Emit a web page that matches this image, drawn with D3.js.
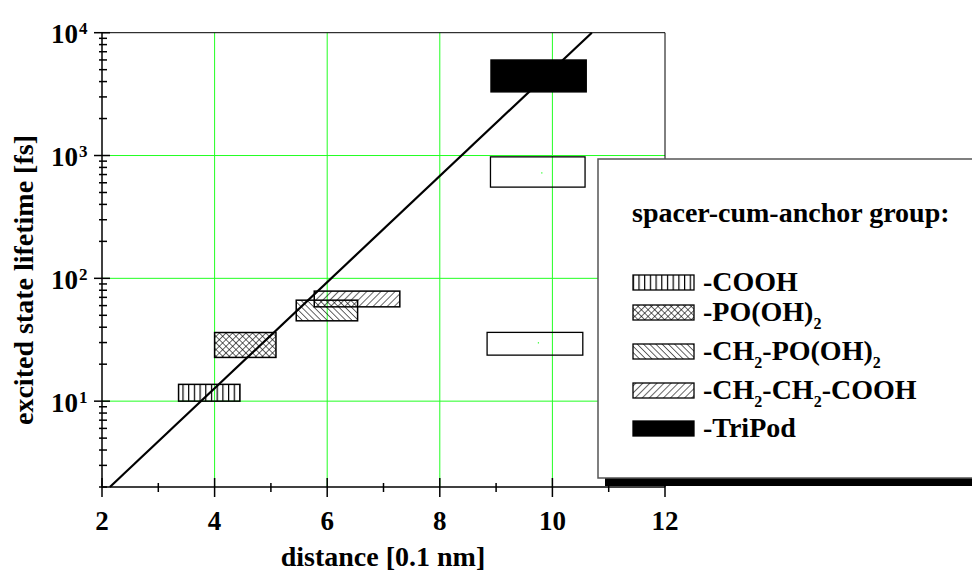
<!DOCTYPE html>
<html><head><meta charset="utf-8">
<script src="https://cdn.jsdelivr.net/npm/d3@7"></script>
<style>
html,body{margin:0;padding:0;background:#fff;overflow:hidden}
svg text{font-family:"Liberation Serif","Times New Roman",serif;font-weight:bold;fill:#000}
</style></head>
<body>
<svg id="chart" width="972" height="572"></svg>
<script>
// ---------- data ----------
const xMajorTicks = [2, 4, 6, 8, 10, 12];
const xMinorTicks = [3, 5, 7, 9, 11];
const yMajorExps = [1, 2, 3, 4];
const groupNames = ["-COOH", "-PO(OH)2", "-CH2-PO(OH)2", "-CH2-CH2-COOH", "-TriPod"];
const groupPatterns = ["vert", "cross", "back", "fwd", "solid"];
const rectX0 = [3.36, 4.00, 5.45, 5.77, 8.91];
const rectX1 = [4.45, 5.09, 6.54, 7.29, 10.60];
const rectY0 = [10.0, 22.7, 45.1, 58.6, 3300];
const rectY1 = [13.7, 36.2, 66.4, 78.7, 5990];
// open (unfilled) boxes
const openX0 = [8.90, 8.84];
const openX1 = [10.58, 10.54];
const openY0 = [553, 23.7];
const openY1 = [975, 36.3];
const openCx = [9.81, 9.75];
const openCy = [723, 29.9];
// fitted line
const fitX = [2.14, 10.70];
const fitY = [2, 10000];

// ---------- layout ----------
const svg = d3.select("#chart");
const x = d3.scaleLinear().domain([2, 12]).range([102, 665]);
const y = d3.scaleLog().domain([2, 10000]).range([487, 32.7]);
const GRID = "#22ff22";

// patterns
const defs = svg.append("defs");
function pat(id, size, rot, lines) {
  const p = defs.append("pattern").attr("id", id).attr("patternUnits", "userSpaceOnUse")
    .attr("width", size).attr("height", size);
  if (rot) p.attr("patternTransform", `rotate(${rot})`);
  lines.forEach(l => p.append("line").attr("x1", l[0]).attr("y1", l[1]).attr("x2", l[2]).attr("y2", l[3])
    .attr("stroke", "#000").attr("stroke-width", 1.2));
}
pat("vert", 5.7, 0, [[0.6, 0, 0.6, 5.7]]);
pat("cross", 4.7, 45, [[0, 0, 0, 4.7], [0, 0, 4.7, 0]]);
pat("back", 4.4, -45, [[0, 0, 0, 4.4]]);
pat("fwd", 5.0, 45, [[0, 0, 0, 5.0]]);
const fillOf = p => p === "solid" ? "#000" : `url(#${p})`;

// grid
const gridX = [4, 6, 8, 10];
const gridY = [10, 100, 1000];
svg.append("g").selectAll("line").data(gridX).join("line")
  .attr("x1", d => x(d)).attr("x2", d => x(d)).attr("y1", y(10000)).attr("y2", y(2))
  .attr("stroke", GRID).attr("stroke-width", 1);
svg.append("g").selectAll("line").data(gridY).join("line")
  .attr("x1", x(2)).attr("x2", x(12)).attr("y1", d => y(d)).attr("y2", d => y(d))
  .attr("stroke", GRID).attr("stroke-width", 1);

// frame top/right
svg.append("line").attr("x1", x(2)).attr("x2", x(12)).attr("y1", y(10000)).attr("y2", y(10000))
  .attr("stroke", "#000").attr("stroke-width", 1);
svg.append("line").attr("x1", x(12)).attr("x2", x(12)).attr("y1", y(10000)).attr("y2", y(2))
  .attr("stroke", "#000").attr("stroke-width", 1);

// axes
const xAxis = svg.append("g").attr("transform", `translate(0,${y(2)})`)
  .call(d3.axisBottom(x).tickValues(xMajorTicks).tickSize(0).tickFormat(""));
xAxis.select(".domain").attr("stroke-width", 1.5).attr("d", `M${x(2)},0H${x(12)}`);
svg.append("g").selectAll("line").data(xMajorTicks).join("line")
  .attr("x1", d => x(d)).attr("x2", d => x(d)).attr("y1", y(2) - 9).attr("y2", y(2) + 10)
  .attr("stroke", "#000").attr("stroke-width", 1.5);
svg.append("g").selectAll("line").data(xMinorTicks).join("line")
  .attr("x1", d => x(d)).attr("x2", d => x(d)).attr("y1", y(2) - 4).attr("y2", y(2) + 5)
  .attr("stroke", "#000").attr("stroke-width", 1.5);
svg.append("g").selectAll("text").data(xMajorTicks).join("text")
  .attr("x", d => x(d)).attr("y", 530).attr("text-anchor", "middle")
  .attr("font-size", 27).text(d => d);

const yAxis = svg.append("g").attr("transform", `translate(${x(2)},0)`)
  .call(d3.axisLeft(y).tickValues([]).tickSize(0));
yAxis.select(".domain").attr("stroke-width", 1.5).attr("d", `M0,${y(2)}V${y(10000)}`);
const yMinor = [];
for (let e = 0; e <= 3; e++) for (let m = 2; m <= 9; m++) { const v = m * Math.pow(10, e); if (v >= 2 && v < 10000) yMinor.push(v); }
svg.append("g").selectAll("line").data(yMinor).join("line")
  .attr("x1", x(2) - 3).attr("x2", x(2) + 5).attr("y1", d => y(d)).attr("y2", d => y(d))
  .attr("stroke", "#000").attr("stroke-width", 1.5);
svg.append("g").selectAll("line").data(yMajorExps).join("line")
  .attr("x1", x(2) - 8).attr("x2", x(2) + 8).attr("y1", d => y(Math.pow(10, d))).attr("y2", d => y(Math.pow(10, d)))
  .attr("stroke", "#000").attr("stroke-width", 1.5);
const yl = svg.append("g").selectAll("text").data(yMajorExps).join("text")
  .attr("x", 51).attr("y", d => y(Math.pow(10, d)) + 10.5).attr("font-size", 27);
yl.append("tspan").text("10");
yl.append("tspan").attr("font-size", 17).attr("dy", -9).attr("dx", 1).text(d => d);

// axis titles
svg.append("text").attr("x", 383).attr("y", 566).attr("text-anchor", "middle")
  .attr("font-size", 28).text("distance [0.1 nm]");
svg.append("text").attr("transform", "translate(33,280) rotate(-90)").attr("text-anchor", "middle")
  .attr("font-size", 28).text("excited state lifetime [fs]");

// data boxes
svg.append("g").selectAll("rect").data(groupNames).join("rect")
  .attr("x", (d, i) => x(rectX0[i])).attr("width", (d, i) => x(rectX1[i]) - x(rectX0[i]))
  .attr("y", (d, i) => y(rectY1[i])).attr("height", (d, i) => y(rectY0[i]) - y(rectY1[i]))
  .attr("fill", (d, i) => fillOf(groupPatterns[i])).attr("stroke", "#000").attr("stroke-width", 1.5);
svg.append("g").selectAll("rect").data(openX0).join("rect")
  .attr("x", (d, i) => x(openX0[i])).attr("width", (d, i) => x(openX1[i]) - x(openX0[i]))
  .attr("y", (d, i) => y(openY1[i])).attr("height", (d, i) => y(openY0[i]) - y(openY1[i]))
  .attr("fill", "none").attr("stroke", "#000").attr("stroke-width", 1.3);
svg.append("g").selectAll("rect").data(openCx).join("rect")
  .attr("x", (d, i) => x(openCx[i]) - 0.5).attr("y", (d, i) => y(openCy[i]) - 0.5)
  .attr("width", 1.2).attr("height", 1.2).attr("fill", GRID);

// fitted line
svg.append("path").datum(fitX.map((v, i) => [v, fitY[i]]))
  .attr("d", d3.line().x(d => x(d[0])).y(d => y(d[1])))
  .attr("fill", "none").attr("stroke", "#000").attr("stroke-width", 2.2);

// legend
const lg = svg.append("g");
lg.append("rect").attr("x", 605).attr("y", 167).attr("width", 400).attr("height", 319).attr("fill", "#000");
lg.append("rect").attr("x", 598).attr("y", 159).attr("width", 400).attr("height", 319)
  .attr("fill", "#fff").attr("stroke", "#555").attr("stroke-width", 1.5);
lg.append("text").attr("x", 632).attr("y", 222).attr("font-size", 28).text("spacer-cum-anchor group:");
const legBase = [291, 321, 360, 399, 437];
lg.selectAll("rect.sw").data(groupNames).join("rect").attr("class", "sw")
  .attr("x", 633).attr("y", (d, i) => legBase[i] - 16).attr("width", 61).attr("height", 15)
  .attr("fill", (d, i) => fillOf(groupPatterns[i])).attr("stroke", "#000").attr("stroke-width", 1.3);
const lt = lg.selectAll("text.lab").data(groupNames).join("text").attr("class", "lab")
  .attr("x", 703).attr("y", (d, i) => legBase[i]).attr("font-size", 28);
lt.each(function (d) {
  const t = d3.select(this);
  const parts = d.split(/(2)/);
  let sub = false;
  parts.forEach(p => {
    if (p === "") return;
    if (p === "2") {
      t.append("tspan").attr("font-size", 16).attr("dy", 8).text("2");
      sub = true;
    } else {
      const s = t.append("tspan").text(p);
      if (sub) { s.attr("dy", -8); sub = false; }
    }
  });
});
</script>
</body></html>
